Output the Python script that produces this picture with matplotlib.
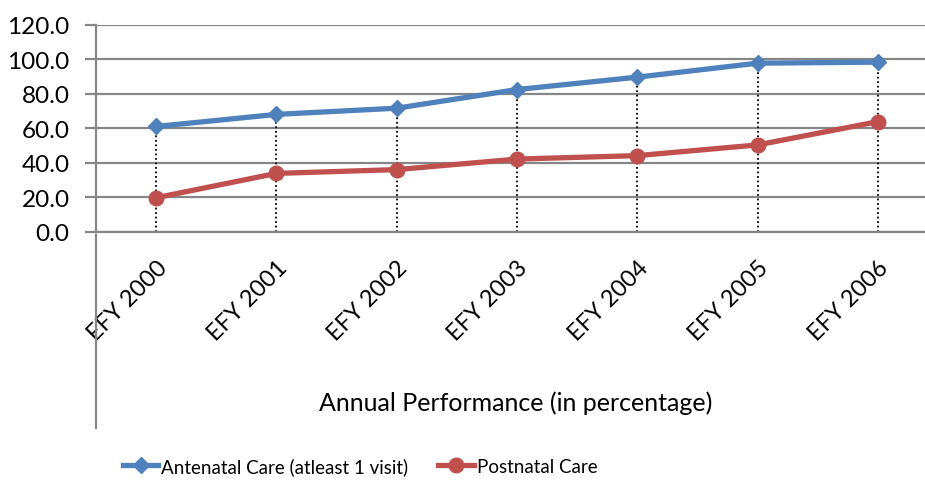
import matplotlib
matplotlib.use("Agg")
import matplotlib.pyplot as plt
from matplotlib.ticker import FormatStrFormatter

plt.rcParams['font.family'] = ['Lato', 'DejaVu Sans']

years = ["EFY 2000", "EFY 2001", "EFY 2002", "EFY 2003", "EFY 2004", "EFY 2005", "EFY 2006"]
antenatal = [61.0, 68.0, 71.6, 82.4, 89.6, 97.7, 98.3]
postnatal = [19.7, 33.8, 36.0, 42.1, 44.1, 50.3, 63.8]

W, H = 925, 481
fig = plt.figure(figsize=(W / 100, H / 100), dpi=100)
ax = fig.add_axes([96 / W, 1 - 232.7 / H, (938 - 96) / W, (232.7 - 25.7) / H])

x = list(range(len(years)))
grid_c = "#868686"

# dotted drop lines from the upper series down to the axis
for xi, yi in zip(x, antenatal):
    ax.plot([xi, xi], [0, yi], ls=(0, (1, 1.5)), color="black", lw=1.3, zorder=2)

ax.plot(x, antenatal, color="#4F81BD", lw=3.8, marker="D", ms=8.5,
        label="Antenatal Care (atleast 1 visit)", zorder=4)
ax.plot(x, postnatal, color="#C0504D", lw=3.8, marker="o", ms=10.5,
        label="Postnatal Care", zorder=4)

ax.set_xlim(-0.5, len(years) - 0.5)
ax.set_ylim(0, 120)
ax.set_yticks(range(0, 121, 20))
ax.yaxis.set_major_formatter(FormatStrFormatter("%.1f"))
ax.yaxis.grid(True, color=grid_c, lw=1.6)
ax.set_axisbelow(True)

for s in ["top", "right"]:
    ax.spines[s].set_visible(False)
ax.spines["bottom"].set_color(grid_c)
ax.spines["bottom"].set_linewidth(1.6)
ax.spines["left"].set_visible(False)

# the vertical axis runs down past the category labels
ax.plot([-0.5, -0.5], [0, 120], color=grid_c, lw=1.6, clip_on=False, zorder=3)
ax.annotate("", xy=(96 / W, 1 - 432 / H), xytext=(96 / W, 1 - 232.7 / H),
            xycoords="figure fraction",
            arrowprops=dict(arrowstyle="-", color=grid_c, lw=1.6))

ax.tick_params(axis="y", length=8, width=1.6, color=grid_c, labelsize=17.5, pad=11)
ax.set_xticks(x)
ax.set_xticklabels(years, rotation=45, ha="right", va="top",
                   rotation_mode="anchor", fontsize=17)
ax.tick_params(axis="x", length=0, pad=18)

fig.text(516 / W, 1 - 403 / H, "Annual Performance (in percentage)",
         ha="center", va="center", fontsize=18)

fig.legend(loc="center", bbox_to_anchor=(360 / W, 1 - 467 / H), ncol=2, frameon=False,
           fontsize=13.5, handlelength=1.9, handletextpad=0.15, columnspacing=1.6)

fig.savefig("out.png", dpi=100)
